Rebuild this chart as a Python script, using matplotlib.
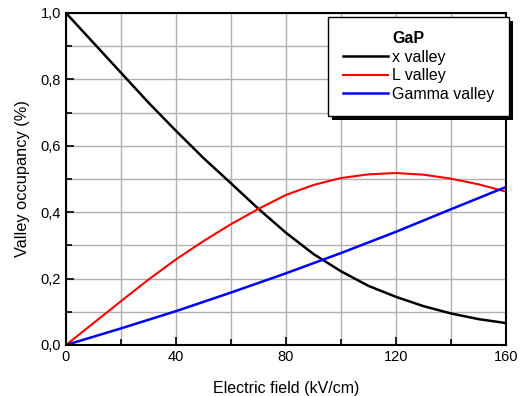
import matplotlib
matplotlib.use("Agg")
import matplotlib.pyplot as plt
from matplotlib.ticker import MultipleLocator, FuncFormatter
from matplotlib.patches import Rectangle
from matplotlib.lines import Line2D

field = [0, 10, 20, 30, 40, 50, 60, 70, 80, 90, 100, 110, 120, 130, 140, 150, 160]
x_valley = [1.0, 0.91, 0.82, 0.73, 0.645, 0.563, 0.487, 0.41, 0.338, 0.274, 0.222, 0.178, 0.145, 0.117, 0.095, 0.078, 0.066]
l_valley = [0.0, 0.066, 0.132, 0.197, 0.258, 0.313, 0.364, 0.41, 0.452, 0.482, 0.503, 0.514, 0.518, 0.513, 0.501, 0.484, 0.462]
g_field = [0, 20, 40, 60, 80, 100, 120, 140, 160]
g_valley = [0.0, 0.05, 0.102, 0.158, 0.216, 0.277, 0.341, 0.409, 0.476]
legend_title = 'GaP'

plt.rcParams['font.family'] = ['Liberation Sans', 'DejaVu Sans']
fig = plt.figure(figsize=(5.32, 3.96), dpi=100)
ax = fig.add_axes([66/532, 1-345/396, 440/532, 332/396])

l1, = ax.plot(field, x_valley, color='black', lw=1.8, label='x valley')
l2, = ax.plot(field, l_valley, color='red', lw=1.5, label='L valley')
l3, = ax.plot(g_field, g_valley, color='blue', lw=1.8, label='Gamma valley')

ax.set_xlim(0, 160)
ax.set_ylim(0, 1.0)
ax.xaxis.set_major_locator(MultipleLocator(40))
ax.xaxis.set_minor_locator(MultipleLocator(20))
ax.yaxis.set_major_locator(MultipleLocator(0.2))
ax.yaxis.set_minor_locator(MultipleLocator(0.1))
ax.yaxis.set_major_formatter(FuncFormatter(lambda v, p: f"{v:.1f}".replace('.', ',')))
ax.grid(True, which='both', color='#b0b0b0', lw=1.0)
ax.set_axisbelow(True)
ax.tick_params(which='both', direction='in', top=False, right=False, labelsize=10.5, colors='black')
ax.tick_params(which='major', length=6, width=1.2)
ax.tick_params(which='minor', length=4, width=1.2)
for s in ax.spines.values():
    s.set_linewidth(1.5)
ax.set_xlabel('Electric field (kV/cm)', fontsize=11.5, labelpad=12)
ax.set_ylabel('Valley occupancy (%)', fontsize=11.8, labelpad=8)

dummy = Line2D([], [], color='none')
leg = fig.legend([dummy, l1, l2, l3], [legend_title, 'x valley', 'L valley', 'Gamma valley'],
                 loc='upper right', bbox_to_anchor=(509/532, 1-17/396), bbox_transform=fig.transFigure,
                 fontsize=11.5, frameon=True, fancybox=False, shadow=False,
                 handlelength=2.8, handletextpad=0.3, borderpad=0.9, labelspacing=0.22,
                 borderaxespad=0, framealpha=1.0)
leg.get_texts()[0].set_fontweight('bold')
leg.get_frame().set_edgecolor('black')
leg.get_frame().set_linewidth(1.0)
leg.set_zorder(10)
fig.canvas.draw()
bb = leg.get_window_extent().transformed(fig.transFigure.inverted())
shadow = Rectangle((bb.x0 + 4/532, bb.y0 - 4/396), bb.width, bb.height, transform=fig.transFigure,
                   facecolor='black', edgecolor='none', zorder=5)
fig.add_artist(shadow)

fig.savefig('out.png', dpi=100)
